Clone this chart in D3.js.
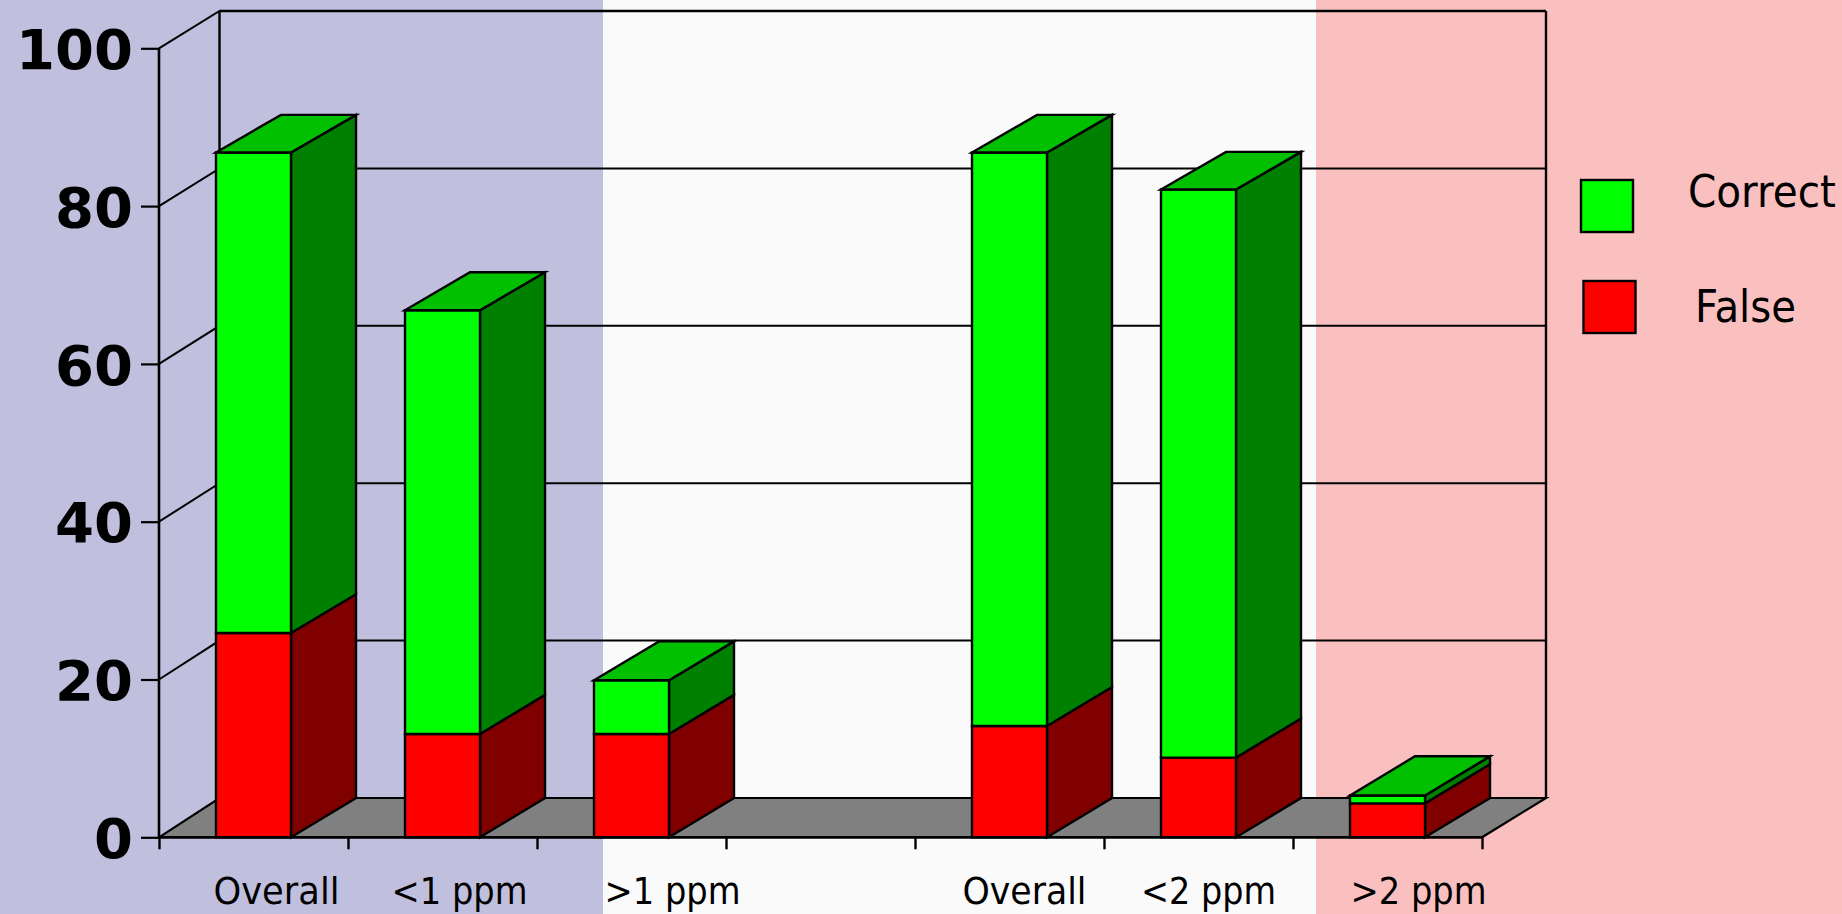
<!DOCTYPE html>
<html>
<head>
<meta charset="utf-8">
<script src="https://cdn.jsdelivr.net/npm/d3@7"></script>
<style>
html,body{margin:0;padding:0;background:#fafafa;overflow:hidden}
svg{display:block}
</style>
</head>
<body>
<svg id="chart" width="1842" height="914"></svg>
<script>
// ---- data ----
const categories = ["Overall", "<1 ppm", ">1 ppm", "", "Overall", "<2 ppm", ">2 ppm"];
const falseValues = [25.9, 13.1, 13.1, 0, 14.1, 10.1, 4.3];
const correctValues = [60.9, 53.7, 6.8, 0, 72.7, 72.0, 1.0];
const yTicks = [0, 20, 40, 60, 80, 100];
const legendNames = ["Correct", "False"];

// ---- layout ----
const W = 1842, H = 914;
const frontLeft = 159, frontRight = 1482, frontBase = 837.3, frontTop = 48.3;
const backLeft = 219.5, backRight = 1546, backBase = 798, backTop = 11;
const barWidth = 75, barDepth = 65;
const labelShift = [23, 17, 41, 0, 15, 10, 31];
const labelWidths = [126, 136, 136, 0, 124, 135, 136];
const ink = "#000";

const svg = d3.select("#chart");
const band = d3.scaleBand().domain(d3.range(categories.length)).range([frontLeft, frontRight]);
const xTick = d3.scaleLinear().domain([0, categories.length]).range([frontLeft, frontRight]);
const y = d3.scaleLinear().domain([0, 100]).range([frontBase, frontTop]);
const yBack = d3.scaleLinear().domain([0, 100]).range([backBase, backTop]);
const poly = pts => "M" + pts.map(p => p.join(",")).join("L") + "Z";

// background panels
const panels = [[0, 603, "#c0c0de"], [603, 1316, "#fafafa"], [1316, W, "#fac0c0"]];
svg.selectAll("rect.panel").data(panels).join("rect").attr("class", "panel")
  .attr("x", d => d[0]).attr("y", 0).attr("width", d => d[1] - d[0]).attr("height", H).attr("fill", d => d[2]);

// floor
svg.append("path")
  .attr("d", poly([[frontLeft, frontBase], [frontRight, frontBase], [backRight, backBase], [backLeft, backBase]]))
  .attr("fill", "#808080").attr("stroke", ink).attr("stroke-width", 2.2).attr("stroke-linejoin", "miter");

// walls and gridlines
const wall = svg.append("g").attr("fill", "none").attr("stroke", ink).attr("stroke-width", 2);
wall.selectAll("path.grid").data(yTicks.slice(1)).join("path").attr("class", "grid")
  .attr("d", v => `M${frontLeft},${y(v)}L${backLeft},${yBack(v)}L${backRight},${yBack(v)}`);
wall.append("path").attr("d", `M${backLeft},${backBase}L${backLeft},${backTop}`).attr("stroke-width", 2.4);
wall.append("path").attr("d", `M${backRight},${backBase}L${backRight},${backTop}`).attr("stroke-width", 2.4);
wall.append("path").attr("d", `M${backLeft},${backTop}L${backRight},${backTop}`).attr("stroke-width", 2.4);

// stacked 3D bars
const rows = categories.map((c, i) => ({ i, correct: correctValues[i], false: falseValues[i] }));
const stack = d3.stack().keys(["false", "correct"])(rows);
const faces = { false: ["#ff0000", "#800000"], correct: ["#00ff00", "#008000"] };
const barsG = svg.append("g").attr("stroke", ink).attr("stroke-width", 2.4).attr("stroke-linejoin", "miter");
rows.forEach((r, idx) => {
  if (r.correct + r.false === 0) return;
  const x0 = band(r.i) + (band.bandwidth() - barWidth) / 2, x1 = x0 + barWidth, x2 = x1 + barDepth;
  const g = barsG.append("g");
  stack.forEach(series => {
    const [a, b] = series[idx];
    g.append("path").attr("fill", faces[series.key][1])
      .attr("d", poly([[x1, y(a)], [x2, yBack(a)], [x2, yBack(b)], [x1, y(b)]]));
    g.append("path").attr("fill", faces[series.key][0])
      .attr("d", poly([[x0, y(a)], [x1, y(a)], [x1, y(b)], [x0, y(b)]]));
  });
  const t = r.correct + r.false;
  g.append("path").attr("fill", "#00c000")
    .attr("d", poly([[x0, y(t)], [x1, y(t)], [x2, yBack(t)], [x0 + barDepth, yBack(t)]]));
});

// y axis
const yAxis = d3.axisLeft(y).tickValues(yTicks).tickSize(18).tickPadding(8).tickFormat(d3.format("d"));
const yG = svg.append("g").attr("transform", `translate(${frontLeft},0)`).call(yAxis);
yG.select(".domain").attr("d", `M0,${frontTop}L0,${frontBase}`).attr("stroke", ink).attr("stroke-width", 2.6);
yG.selectAll(".tick line").attr("stroke", ink).attr("stroke-width", 2.2);
yG.selectAll(".tick text")
  .attr("font-family", "'DejaVu Sans'").attr("font-weight", "bold").attr("font-size", 56)
  .attr("fill", ink).attr("dy", "0.36em");

// x axis
const xAxis = d3.axisBottom(xTick).ticks(categories.length).tickSize(12).tickFormat("");
const xG = svg.append("g").attr("transform", `translate(0,${frontBase})`).call(xAxis);
xG.select(".domain").attr("d", `M${frontLeft},0L${frontRight},0`).attr("stroke", ink).attr("stroke-width", 2.6);
xG.selectAll(".tick line").attr("stroke", ink).attr("stroke-width", 2.4);

// category labels
svg.selectAll("text.cat").data(rows.filter(r => categories[r.i])).join("text").attr("class", "cat")
  .attr("x", r => band(r.i) + band.bandwidth() / 2 + labelShift[r.i])
  .attr("y", 904).attr("text-anchor", "middle")
  .attr("font-family", "'DejaVu Sans'").attr("font-size", 38).attr("fill", ink)
  .attr("textLength", r => labelWidths[r.i]).attr("lengthAdjust", "spacingAndGlyphs")
  .text(r => categories[r.i]);

// legend
const legendLayout = [
  { sx: 1581, sy: 180, tx: 1688, ty: 207, tw: 148 },
  { sx: 1583.5, sy: 281, tx: 1695, ty: 322, tw: 101 }
];
const legendColor = d3.scaleOrdinal().domain(legendNames).range(["#00ff00", "#ff0000"]);
const lg = svg.selectAll("g.lg").data(legendNames).join("g").attr("class", "lg");
lg.append("rect")
  .attr("x", (d, i) => legendLayout[i].sx).attr("y", (d, i) => legendLayout[i].sy)
  .attr("width", 52).attr("height", 52)
  .attr("fill", d => legendColor(d)).attr("stroke", ink).attr("stroke-width", 2.4);
lg.append("text")
  .attr("x", (d, i) => legendLayout[i].tx).attr("y", (d, i) => legendLayout[i].ty)
  .attr("font-family", "'DejaVu Sans'").attr("font-size", 44).attr("fill", ink)
  .attr("textLength", (d, i) => legendLayout[i].tw).attr("lengthAdjust", "spacingAndGlyphs")
  .text(d => d);
</script>
</body>
</html>
